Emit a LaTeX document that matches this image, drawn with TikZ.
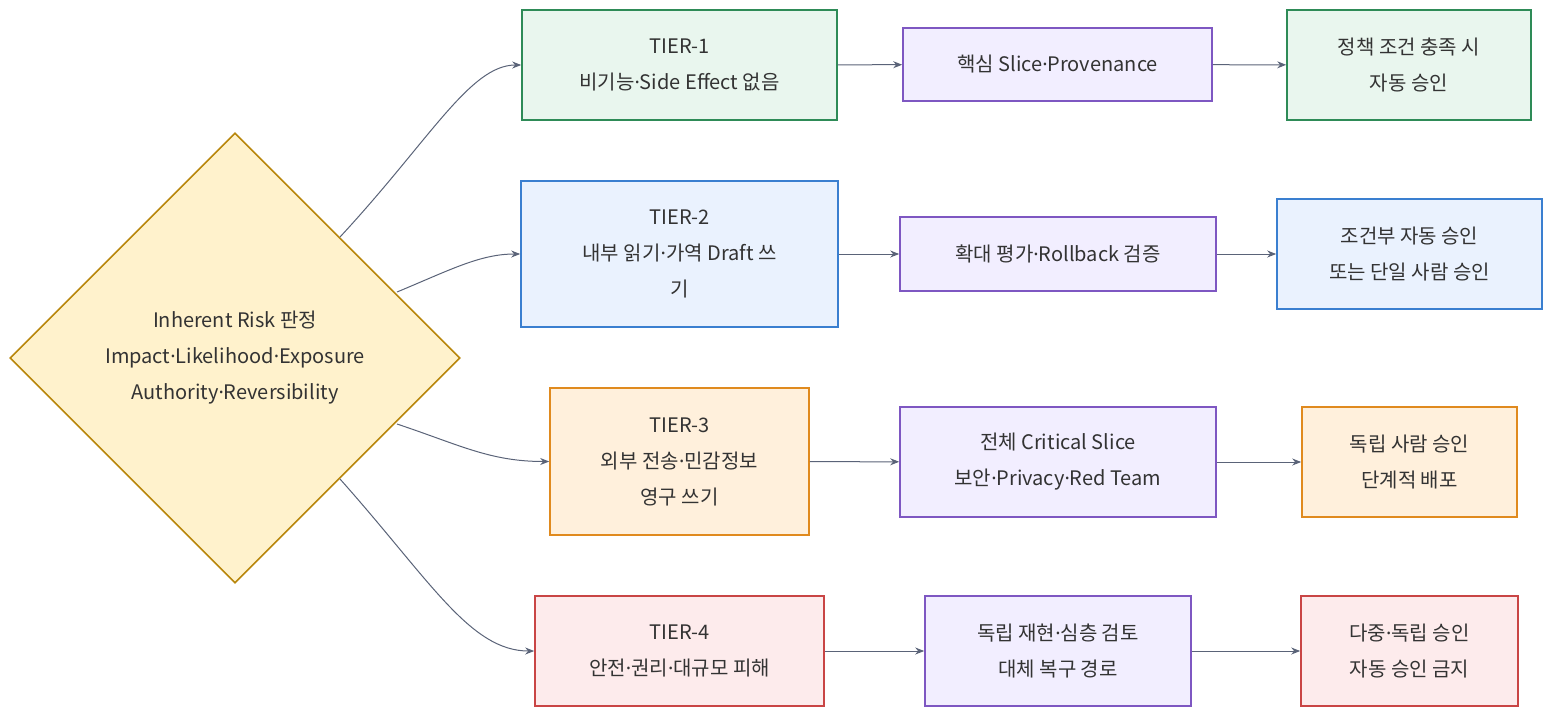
\documentclass[tikz,border=0pt]{standalone}
\usepackage{fontspec}
\setmainfont{Noto Sans CJK KR}
\newfontfamily\latn{Noto Sans}
\newcommand\md{{\latn ·}}
\usetikzlibrary{shapes.geometric,arrows.meta}
\definecolor{lnk}{HTML}{5A6378}
\definecolor{gfill}{HTML}{E9F6EE}\definecolor{gdraw}{HTML}{2E8B57}
\definecolor{bfill}{HTML}{EAF2FE}\definecolor{bdraw}{HTML}{3A7FD0}
\definecolor{ofill}{HTML}{FFF0DC}\definecolor{odraw}{HTML}{E08A1E}
\definecolor{rfill}{HTML}{FDEBEC}\definecolor{rdraw}{HTML}{C94545}
\definecolor{pfill}{HTML}{F2EEFF}\definecolor{pdraw}{HTML}{7E57C2}
\definecolor{dfill}{HTML}{FFF2CC}\definecolor{ddraw}{HTML}{B8860B}
\definecolor{txt}{HTML}{333333}

\begin{document}
\begin{tikzpicture}[x=1pt,y=-1pt,
  every node/.style={font=\fontsize{20}{36}\selectfont, text=txt, align=center, inner sep=0pt},
  box/.style={draw, line width=1.6pt},
  tier1/.style={box, fill=gfill, draw=gdraw},
  tier2/.style={box, fill=bfill, draw=bdraw},
  tier3/.style={box, fill=ofill, draw=odraw},
  tier4/.style={box, fill=rfill, draw=rdraw},
  proc/.style={box, fill=pfill, draw=pdraw},
  link/.style={draw=lnk, line width=1pt, -{Stealth[length=9pt,width=7pt]}}]
\useasboundingbox (0,0) rectangle (1568,724);
% risk decision
\node [diamond, draw=ddraw, fill=dfill, line width=1.6pt, minimum width=450pt, minimum height=450pt, aspect=1] (risk) at (235,358) {};
\node at (235,358) {Inherent Risk 판정\\Impact\md Likelihood\md Exposure\\Authority\md Reversibility};
% tiers
\node [tier1, minimum width=315pt, minimum height=110pt] (t1) at (679.5,65) {TIER-1\\비기능\md Side Effect 없음};
\node [tier2, minimum width=317pt, minimum height=146pt] (t2) at (679.5,254) {TIER-2\\내부 읽기\md 가역 Draft 쓰\\기};
\node [tier3, minimum width=259pt, minimum height=147pt] (t3) at (679.5,461.5) {TIER-3\\외부 전송\md 민감정보\\영구 쓰기};
\node [tier4, minimum width=289pt, minimum height=110pt] (t4) at (679.5,651) {TIER-4\\안전\md 권리\md 대규모 피해};
% checks
\node [proc, minimum width=309pt, minimum height=73pt] (p1) at (1057.5,64.5) {핵심 Slice\md Provenance};
\node [proc, minimum width=316pt, minimum height=74pt] (p2) at (1058,254) {확대 평가\md Rollback 검증};
\node [proc, minimum width=316pt, minimum height=110pt] (p3) at (1058,462) {전체 Critical Slice\\보안\md Privacy\md Red Team};
\node [proc, minimum width=266pt, minimum height=110pt] (p4) at (1058,651) {독립 재현\md 심층 검토\\대체 복구 경로};
% approvals
\node [tier1, minimum width=244pt, minimum height=110pt] (a1) at (1409,65) {정책 조건 충족 시\\자동 승인};
\node [tier2, minimum width=265pt, minimum height=110pt] (a2) at (1409.5,254) {조건부 자동 승인\\또는 단일 사람 승인};
\node [tier3, minimum width=215pt, minimum height=110pt] (a3) at (1409.5,462) {독립 사람 승인\\단계적 배포};
\node [tier4, minimum width=217pt, minimum height=110pt] (a4) at (1409.5,651) {다중\md 독립 승인\\자동 승인 금지};
% links
\coordinate (s1) at (340,237);
\coordinate (s2) at (397,292);
\coordinate (s3) at (397,424);
\coordinate (s4) at (340,479);
\draw [link] (s1) .. controls (430,140) and (470,65) .. (t1.west);
\draw [link] (s2) .. controls (450,270) and (480,254) .. (t2.west);
\draw [link] (s3) .. controls (460,445) and (490,461.5) .. (t3.west);
\draw [link] (s4) .. controls (430,580) and (470,651) .. (t4.west);
\foreach \i in {1,...,4} {
  \draw [link] (t\i) -- (p\i);
  \draw [link] (p\i) -- (a\i);
}
\end{tikzpicture}
\end{document}
